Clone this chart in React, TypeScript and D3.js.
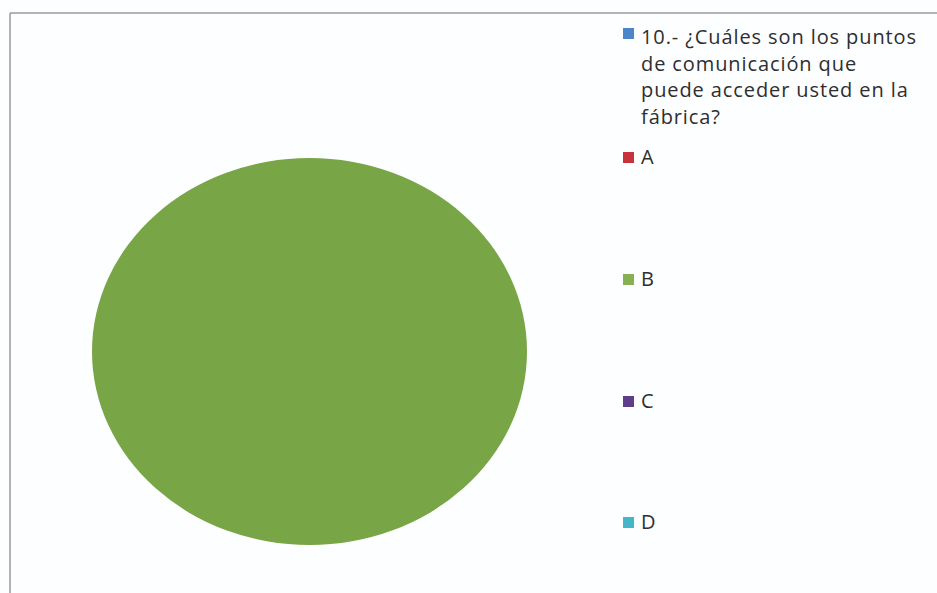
import React from "react";
import * as d3 from "d3";

const categories = [
  "10.- ¿Cuáles son los puntos de comunicación que puede acceder usted en la fábrica?",
  "A",
  "B",
  "C",
  "D",
];
const values = [0, 0, 100, 0, 0];
const legendLines = [
  ["10.- ¿Cuáles son los puntos", "de comunicación que", "puede acceder usted en la", "fábrica?"],
  ["A"],
  ["B"],
  ["C"],
  ["D"],
];
const sliceColors = ["#4a7fc0", "#c2383d", "#78a546", "#5e3d8a", "#3fb0c8"];
const legendColors = ["#4a86c8", "#c8323a", "#86b153", "#5e3d8a", "#45b6ca"];

export default function App() {
  const W = 937;
  const H = 593;
  const cx = 309.5;
  const cy = 351.5;
  const rx = 217.5;
  const ry = 193.5;

  const pie = d3.pie<number>().sort(null).value((d) => d)(values);
  const arc = d3.arc<d3.PieArcDatum<number>>().innerRadius(0).outerRadius(rx);

  const legendX = 623;
  const squareY = [28, 152, 274, 396, 517];
  const lineBase = [44, 71, 97, 124];
  const font = "'Open Sans', sans-serif";

  return (
    <svg
      width={W}
      height={H}
      style={{ position: "absolute", left: 0, top: 0 }}
    >
      <rect x={0} y={0} width={W} height={H} fill="#fdfeff" />
      <line x1={10} y1={13} x2={W} y2={13} stroke="#9a9a9a" strokeWidth={1.5} />
      <line x1={10} y1={13} x2={10} y2={H} stroke="#9a9a9a" strokeWidth={1.5} />
      <g transform={`translate(${cx},${cy}) scale(1,${ry / rx})`}>
        {pie.map((d, i) =>
          d.value > 0 ? (
            <path key={i} d={arc(d) || ""} fill={sliceColors[i]} />
          ) : null
        )}
      </g>
      {categories.map((c, i) => (
        <g key={c}>
          <rect x={legendX} y={squareY[i]} width={11} height={11} fill={legendColors[i]} />
          {legendLines[i].map((t, j) => (
            <text
              key={j}
              x={641}
              y={i === 0 ? lineBase[j] : squareY[i] + 12}
              fontFamily={font}
              fontSize={20}
              letterSpacing={0.9}
              fill="#2e2e2e"
            >
              {t}
            </text>
          ))}
        </g>
      ))}
    </svg>
  );
}
